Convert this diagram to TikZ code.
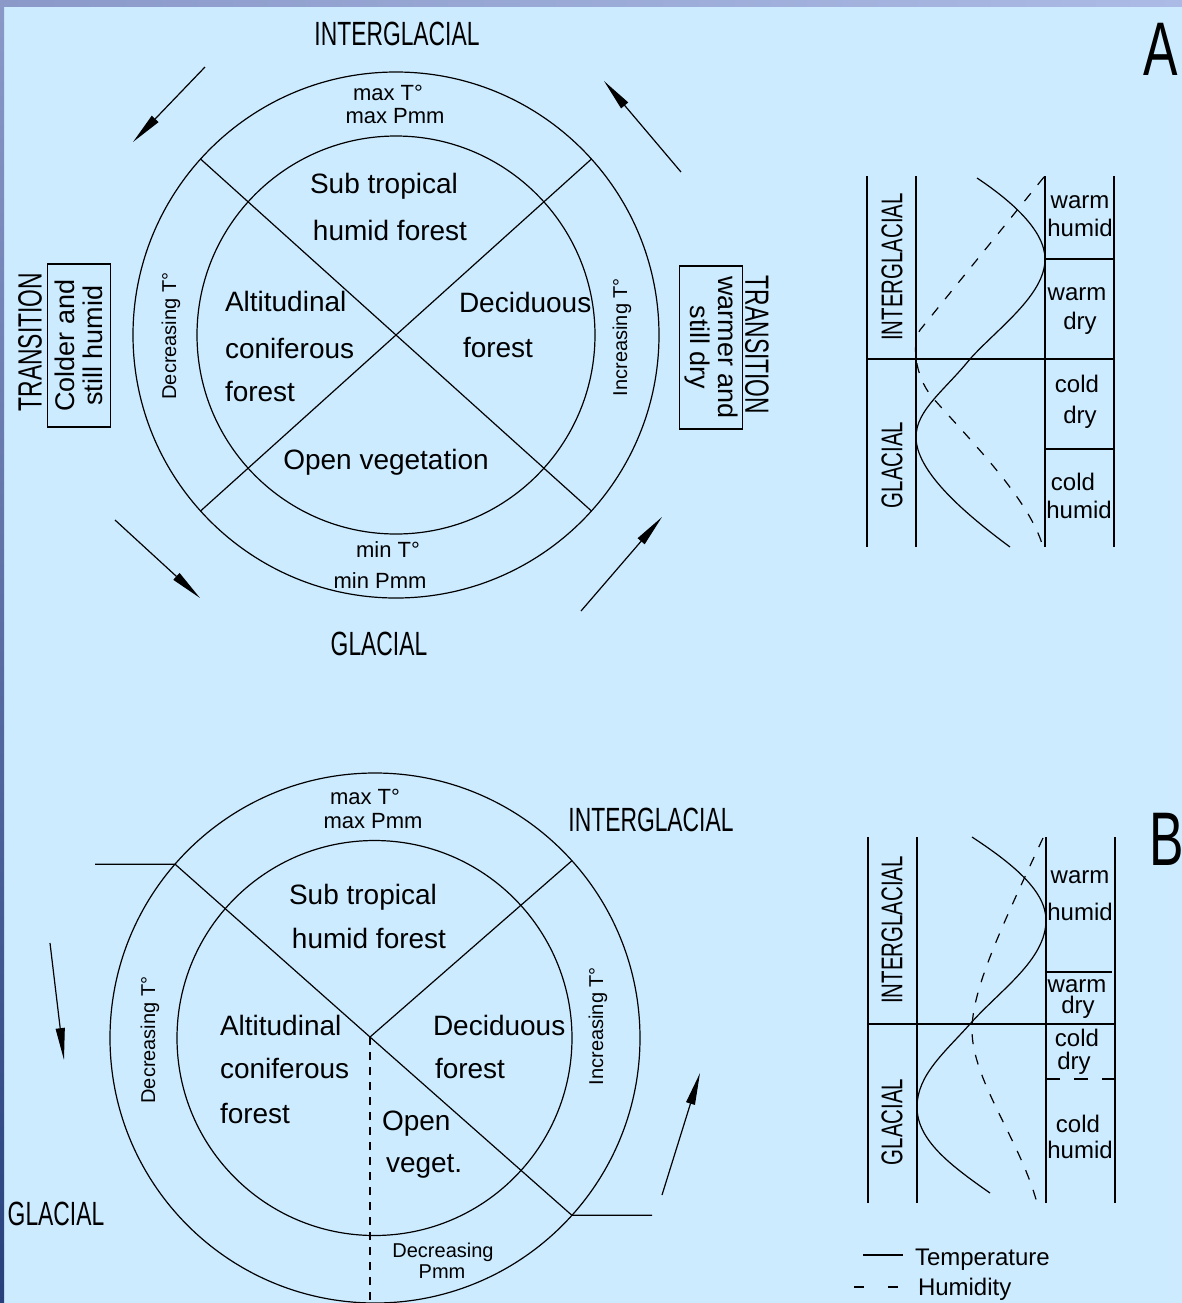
\documentclass[tikz,border=0pt]{standalone}
\usepackage{fontspec}
\setmainfont{Liberation Sans}
\newfontfamily\capsfont[FakeStretch=0.68]{Liberation Sans}
\usepackage{tikz}
\usetikzlibrary{arrows.meta}
\definecolor{skyback}{HTML}{CCEBFF}
\definecolor{frameL}{HTML}{8A99C8}
\definecolor{frameR}{HTML}{ABBBE5}
\definecolor{frameD}{HTML}{27407C}

\begin{document}
\begin{tikzpicture}[x=0.5pt, y=-0.5pt, line width=0.6pt,
  every node/.style={inner sep=0pt, outer sep=0pt},
  ring/.style={draw, circle},
  biglbl/.style={font=\capsfont\fontsize{16.8}{18}\selectfont},
  chartcaps/.style={font=\capsfont\fontsize{15}{16}\selectfont},
  zonelbl/.style={font=\fontsize{14}{16}\selectfont},
  smalllbl/.style={font=\fontsize{11}{12}\selectfont},
  tinylbl/.style={font=\fontsize{10}{11}\selectfont},
  sidelbl/.style={font=\fontsize{10}{11}\selectfont, rotate=90},
  boxlbl/.style={draw, font=\fontsize{13.5}{14}\selectfont, align=center,
    minimum width=81.5pt, minimum height=31.5pt},
  chartlbl/.style={font=\fontsize{12}{13}\selectfont},
  bigletter/.style={font=\capsfont\fontsize{38}{38}\selectfont},
  humid/.style={dash pattern=on 5pt off 5.5pt},
  trend/.style={-{Triangle[length=16pt,width=4.5pt]}}]

% background
\fill[skyback] (0,0) rectangle (1182,1303);
\shade[left color=frameL, right color=frameR] (0,0) rectangle (1182,6);
\shade[top color=frameL, bottom color=frameD] (0,0) rectangle (4,1303);
\useasboundingbox (0,0) rectangle (1182,1303);

% ===== A: rings =====
\node[ring, minimum size=263pt] (outerA) at (396,335) {};
\node[ring, minimum size=199pt] (innerA) at (396,335) {};
\draw (outerA.138) -- (outerA.-42);
\draw (outerA.42) -- (outerA.222);

% A: labels
\node[biglbl, anchor=base] (igA) at (397,45) {INTERGLACIAL};
\node[smalllbl, anchor=base] (maxTA) at (388,100) {max T°};
\node[smalllbl, anchor=base] (maxPA) at (395,123) {max Pmm};
\node[zonelbl, anchor=base] (subA) at (384,193) {Sub tropical};
\node[zonelbl, anchor=base] (humA) at (390,240) {humid forest};
\node[zonelbl, anchor=base west] (altA) at (225,311) {Altitudinal};
\node[zonelbl, anchor=base west] (conA) at (225,358) {coniferous};
\node[zonelbl, anchor=base west] (forA) at (225,401) {forest};
\node[zonelbl, anchor=base west] (decA) at (459,312) {Deciduous};
\node[zonelbl, anchor=base west] (dforA) at (463,357) {forest};
\node[zonelbl, anchor=base] (openA) at (386,469) {Open vegetation};
\node[smalllbl, anchor=base] (minTA) at (388,557) {min T°};
\node[smalllbl, anchor=base] (minPA) at (380,588) {min Pmm};
\node[biglbl, anchor=base] (glA) at (379,655) {GLACIAL};
\node[sidelbl] (dtA) at (171,336) {Decreasing T°};
\node[sidelbl] (itA) at (622,337) {Increasing T°};

% A: transitions
\node[biglbl, rotate=90] (trLA) at (30,342) {TRANSITION};
\node[boxlbl, rotate=90] (boxLA) at (79,345.5) {Colder and\\still humid};
\node[biglbl, rotate=-90] (trRA) at (757,345) {TRANSITION};
\node[boxlbl, rotate=-90] (boxRA) at (711,347.5) {warmer and\\still dry};

% A: arrows
\coordinate (tlA1) at (205,67);  \coordinate (tlA2) at (133,142);
\coordinate (trA1) at (681,172); \coordinate (trA2) at (604,81);
\coordinate (blA1) at (115,520); \coordinate (blA2) at (200,598);
\coordinate (brA1) at (581,611); \coordinate (brA2) at (662,517);
\draw[trend] (tlA1) -- (tlA2);
\draw[trend] (trA1) -- (trA2);
\draw[trend] (blA1) -- (blA2);
\draw[trend] (brA1) -- (brA2);

\node[bigletter, anchor=base] (labA) at (1161,75) {A};

% ===== A: chart =====
\draw (867,176) -- (867,547);
\draw (916,176) -- (916,547);
\draw (1045,176) -- (1045,547);
\draw (1114,176) -- (1114,547);
\draw (867,359) -- (1114,359);
\draw (1045,259) -- (1113,259);
\draw (1045,449) -- (1114,449);
\node[chartcaps, rotate=90] (cigA) at (892,267) {INTERGLACIAL};
\node[chartcaps, rotate=90] (cglA) at (892,465) {GLACIAL};
\node[chartlbl, anchor=base] (wa1) at (1080,208) {warm};
\node[chartlbl, anchor=base] (hu1) at (1080,236) {humid};
\node[chartlbl, anchor=base] (wa2) at (1077,300) {warm};
\node[chartlbl, anchor=base] (dr2) at (1080,329) {dry};
\node[chartlbl, anchor=base] (co3) at (1077,392) {cold};
\node[chartlbl, anchor=base] (dr3) at (1080,423) {dry};
\node[chartlbl, anchor=base] (co4) at (1073,490) {cold};
\node[chartlbl, anchor=base] (hu4) at (1079,518) {humid};
% temperature
\draw (977,178) .. controls (1010,200) and (1045,230) .. (1045,259)
  .. controls (1045,295) and (998,328) .. (970,359)
  .. controls (945,390) and (916,410) .. (916,437)
  .. controls (916,470) and (960,510) .. (1010,547);
% humidity
\draw[humid] (1044,177) -- (920,330) .. controls (912,342) and (914,375) .. (932,397)
  .. controls (970,440) and (1030,500) .. (1043,547);

% ===== B: rings =====
\node[ring, minimum size=265pt] (outerB) at (375,1038) {};
\node[ring, minimum size=197.5pt] (innerB) at (374.5,1038) {};
\coordinate (hubB) at (370,1037);
\coordinate (legL) at (95,0);
\coordinate (legR) at (652,0);
\draw (outerB.139 -| legL) -- (outerB.139) -- (hubB) -- (outerB.-42) -- (outerB.-42 -| legR);
\draw (hubB) -- (outerB.42);
\draw[dash pattern=on 4pt off 3.5pt] (hubB) -- (hubB |- outerB.south);

% B: labels
\node[smalllbl, anchor=base] (maxTB) at (365,804) {max T°};
\node[smalllbl, anchor=base] (maxPB) at (373,828) {max Pmm};
\node[biglbl, anchor=base] (igB) at (651,831) {INTERGLACIAL};
\node[zonelbl, anchor=base] (subB) at (363,904) {Sub tropical};
\node[zonelbl, anchor=base] (humB) at (369,948) {humid forest};
\node[zonelbl, anchor=base west] (altB) at (220,1035) {Altitudinal};
\node[zonelbl, anchor=base west] (conB) at (220,1078) {coniferous};
\node[zonelbl, anchor=base west] (forB) at (220,1123) {forest};
\node[zonelbl, anchor=base west] (decB) at (433,1035) {Deciduous};
\node[zonelbl, anchor=base west] (dforB) at (435,1078) {forest};
\node[zonelbl, anchor=base west] (openB) at (382,1130) {Open};
\node[zonelbl, anchor=base west] (vegB) at (386,1172) {veget.};
\node[tinylbl, anchor=base] (dp1B) at (443,1257) {Decreasing};
\node[tinylbl, anchor=base] (dp2B) at (442,1278) {Pmm};
\node[sidelbl] (dtB) at (150,1040) {Decreasing T°};
\node[sidelbl] (itB) at (598,1026) {Increasing T°};
\node[biglbl, anchor=base] (glB) at (56,1225) {GLACIAL};

% B: arrows
\coordinate (lB1) at (50,943);   \coordinate (lB2) at (64,1060);
\coordinate (rB1) at (662,1195); \coordinate (rB2) at (700,1073);
\draw[trend] (lB1) -- (lB2);
\draw[trend] (rB1) -- (rB2);

\node[bigletter, anchor=base west] (labB) at (1149,865) {B};

% ===== B: chart =====
\draw (868,837) -- (868,1203);
\draw (917,837) -- (917,1203);
\draw (1046,837) -- (1046,1203);
\draw (1115,837) -- (1115,1203);
\draw (868,1024) -- (1115,1024);
\draw (1046,972) -- (1112,972);
\draw[dash pattern=on 7pt off 7pt] (1046,1079) -- (1115,1079);
\node[chartcaps, rotate=90] (cigB) at (892,930) {INTERGLACIAL};
\node[chartcaps, rotate=90] (cglB) at (892,1122) {GLACIAL};
\node[chartlbl, anchor=base] (wb1) at (1080,883) {warm};
\node[chartlbl, anchor=base] (hb1) at (1080,920) {humid};
\node[chartlbl, anchor=base] (wb2) at (1077,992) {warm};
\node[chartlbl, anchor=base] (db2) at (1078,1013) {dry};
\node[chartlbl, anchor=base] (cb3) at (1077,1046) {cold};
\node[chartlbl, anchor=base] (db3) at (1074,1069) {dry};
\node[chartlbl, anchor=base] (cb4) at (1078,1132) {cold};
\node[chartlbl, anchor=base] (hb4) at (1080,1158) {humid};
% temperature
\draw (972,837) .. controls (1010,862) and (1046,890) .. (1046,920)
  .. controls (1046,960) and (1000,990) .. (970,1024)
  .. controls (945,1052) and (917,1075) .. (917,1107)
  .. controls (917,1140) and (950,1165) .. (990,1193);
% humidity
\draw[humid] (1043,838) .. controls (1000,930) and (972,990) .. (972,1030)
  .. controls (972,1080) and (1020,1140) .. (1037,1203);

% legend
\coordinate (legT1) at (863,1255); \coordinate (legT2) at (903,1255);
\coordinate (legH1) at (854,1287); \coordinate (legH2) at (900,1287);
\draw (legT1) -- (legT2);
\draw[dash pattern=on 5pt off 12pt] (legH1) -- (legH2);
\node[chartlbl, anchor=base west] (legTemp) at (915,1265) {Temperature};
\node[chartlbl, anchor=base west] (legHum) at (918,1295) {Humidity};
\end{tikzpicture}
\end{document}
